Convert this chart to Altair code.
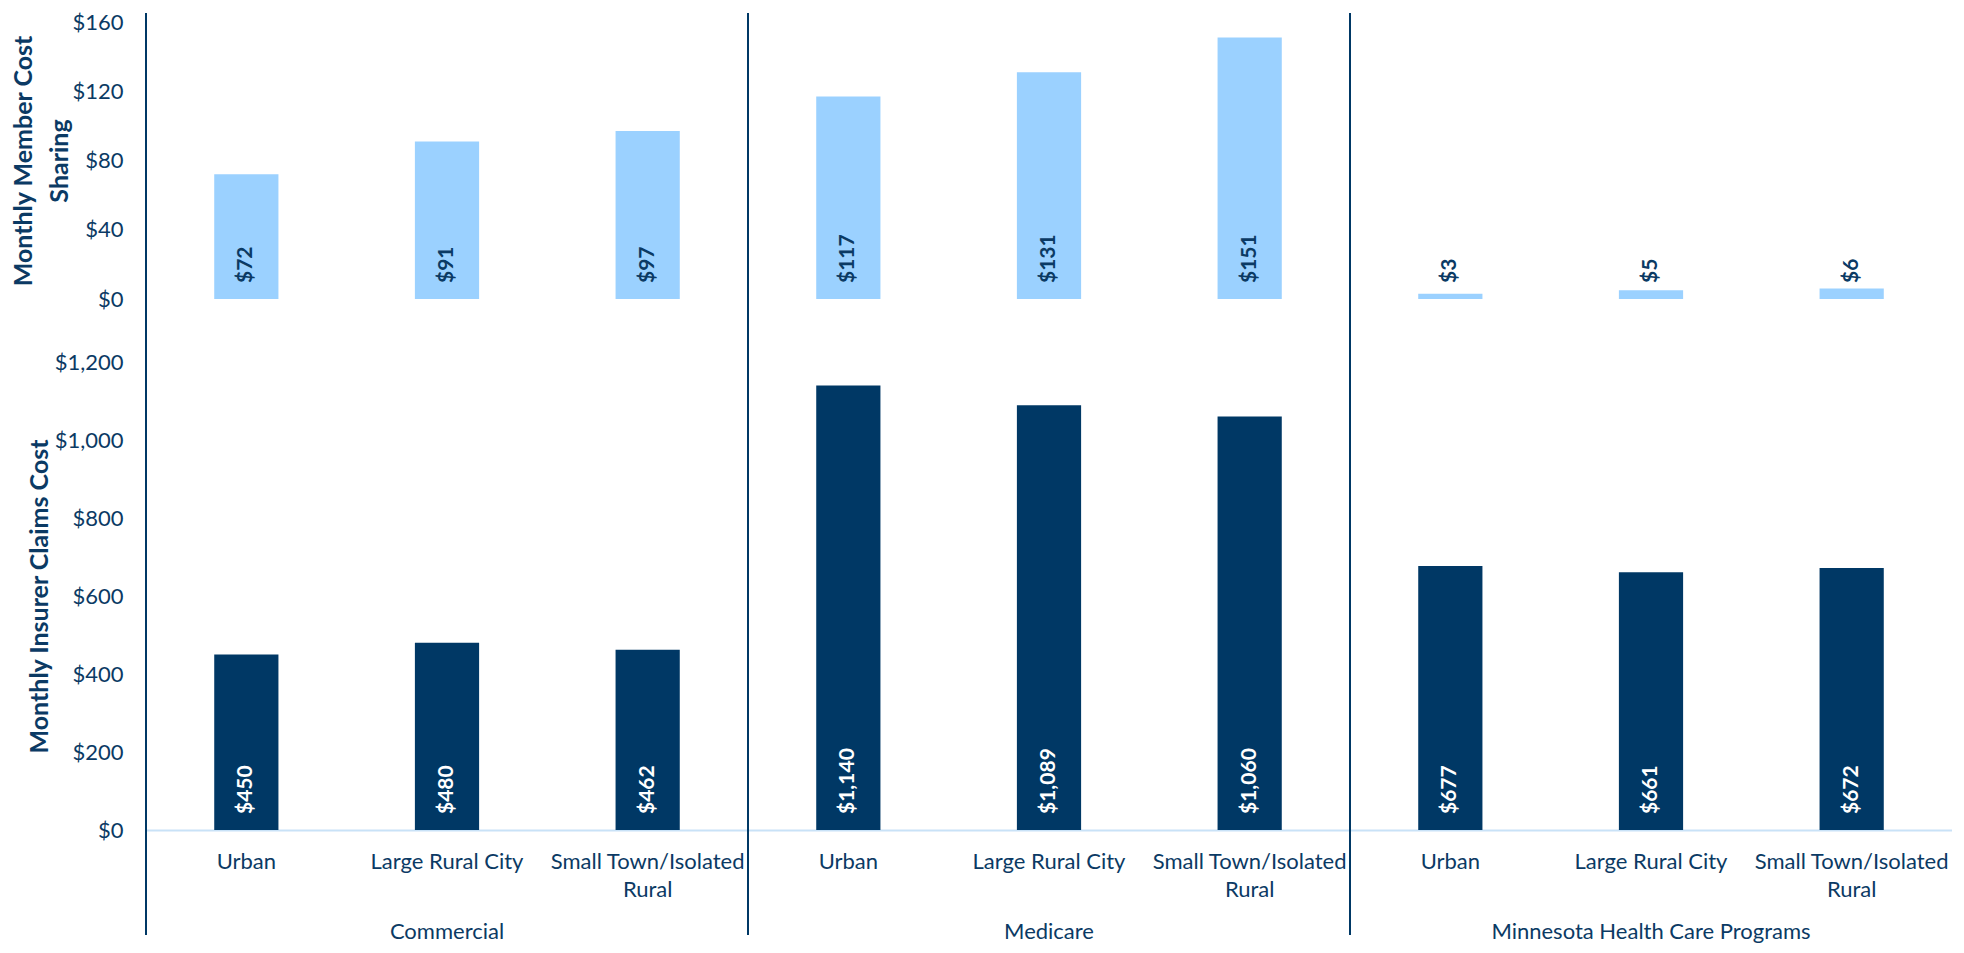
import altair as alt
import pandas as pd

groups = ["Commercial", "Medicare", "Minnesota Health Care Programs"]
categories = ["Urban", "Large Rural City", "Small Town/Isolated Rural"]
member_cost = [72, 91, 97, 117, 131, 151, 3, 5, 6]
claims_cost = [450, 480, 462, 1140, 1089, 1060, 677, 661, 672]
y_top_ticks = [0, 40, 80, 120, 160]
y_bottom_ticks = [0, 200, 400, 600, 800, 1000, 1200]

rows = []
for gi, g in enumerate(groups):
    for ci, c in enumerate(categories):
        i = gi * 3 + ci
        rows.append({"group": g, "category": c, "key": f"{g}|{c}",
                     "member": member_cost[i], "claims": claims_cost[i],
                     "member_lbl": f"${member_cost[i]:,}",
                     "claims_lbl": f"${claims_cost[i]:,}"})
df = pd.DataFrame(rows)
keys = list(df["key"])
df_first = df[df["category"] == categories[0]]
df_mid = df[df["category"] == categories[1]]

NAVY = "#003865"
LIGHT = "#9BD1FF"
TEXT = "#0B3A64"
BASE = "#C9E2F7"
FONT = "Lato"
FS = 22

W = 1806
H_TOP = 277
H_BOT = 468
GAP = 63

xscale = alt.Scale(paddingInner=0, paddingOuter=0)


def xenc(axis=None, **kw):
    return alt.X("key:N", sort=keys, scale=xscale, axis=axis, **kw)


def yaxis(title, values, tx):
    return alt.Axis(values=values, format="$,.0f", title=title, titleX=tx,
                    titleAngle=270, titleBaseline="middle", titleAlign="center",
                    titleFont=FONT, titleFontSize=25, titleFontWeight="bold",
                    titleColor=TEXT, titleLineHeight=36,
                    grid=False, ticks=False, domain=False, labelPadding=23,
                    labelFont=FONT, labelFontSize=FS, labelColor=TEXT)


# ---------- top panel ----------
top_base = alt.Chart(df)
top_bars = top_base.mark_bar(color=LIGHT, width=alt.RelativeBandSize(0.32)).encode(
    x=xenc(),
    y=alt.Y("member:Q", scale=alt.Scale(domain=[0, 160], nice=False),
            axis=yaxis(["Monthly Member Cost", "Sharing"], y_top_ticks, -123)),
)
top_lbl = top_base.mark_text(angle=270, align="left", baseline="middle", dx=16,
                             font=FONT, fontSize=21, fontWeight="bold", color=TEXT).encode(
    x=xenc(), y=alt.datum(0), text="member_lbl:N")
top_rules = alt.Chart(df_first).mark_rule(color=NAVY, strokeWidth=2).encode(
    x=xenc(bandPosition=0), y=alt.value(-9), y2=alt.value(H_TOP + GAP))
top = alt.layer(top_bars, top_lbl, top_rules).properties(width=W, height=H_TOP)

# ---------- bottom panel ----------
label_expr = ("indexof(datum.value, 'Small Town') >= 0 ? ['Small Town/Isolated', 'Rural'] : "
              "split(datum.value, '|')[1]")
xaxis = alt.Axis(title=None, labelExpr=label_expr, labelAngle=0, ticks=False,
                 domainColor=BASE, domainWidth=2, labelFont=FONT, labelFontSize=FS,
                 labelColor=TEXT, labelPadding=21, labelLineHeight=28,
                 labelLimit=0, labelOverlap=False)
bot_base = alt.Chart(df)
bot_bars = bot_base.mark_bar(color=NAVY, width=alt.RelativeBandSize(0.32)).encode(
    x=xenc(axis=xaxis),
    y=alt.Y("claims:Q", scale=alt.Scale(domain=[0, 1200], nice=False),
            axis=yaxis("Monthly Insurer Claims Cost", y_bottom_ticks, -107)),
)
bot_lbl = bot_base.mark_text(angle=270, align="left", baseline="middle", dx=16,
                             font=FONT, fontSize=21, fontWeight="bold", color="white").encode(
    x=xenc(axis=xaxis), y=alt.datum(0), text="claims_lbl:N")
bot_rules = alt.Chart(df_first).mark_rule(color=NAVY, strokeWidth=2).encode(
    x=xenc(axis=xaxis, bandPosition=0), y=alt.value(0), y2=alt.value(H_BOT + 105))
grp_text = alt.Chart(df_mid).mark_text(font=FONT, fontSize=FS, color=TEXT, baseline="middle").encode(
    x=xenc(axis=xaxis), y=alt.value(H_BOT + 102), text="group:N")
bottom = alt.layer(bot_bars, bot_lbl, bot_rules, grp_text).properties(width=W, height=H_BOT)

chart = alt.vconcat(top, bottom, spacing=GAP, bounds="flush").properties(
    padding={"left": 3, "top": 3, "right": 0, "bottom": 0},
    background="white",
).configure_view(stroke=None)

chart.save("out.html", embed_options={"renderer": "svg", "actions": False})
